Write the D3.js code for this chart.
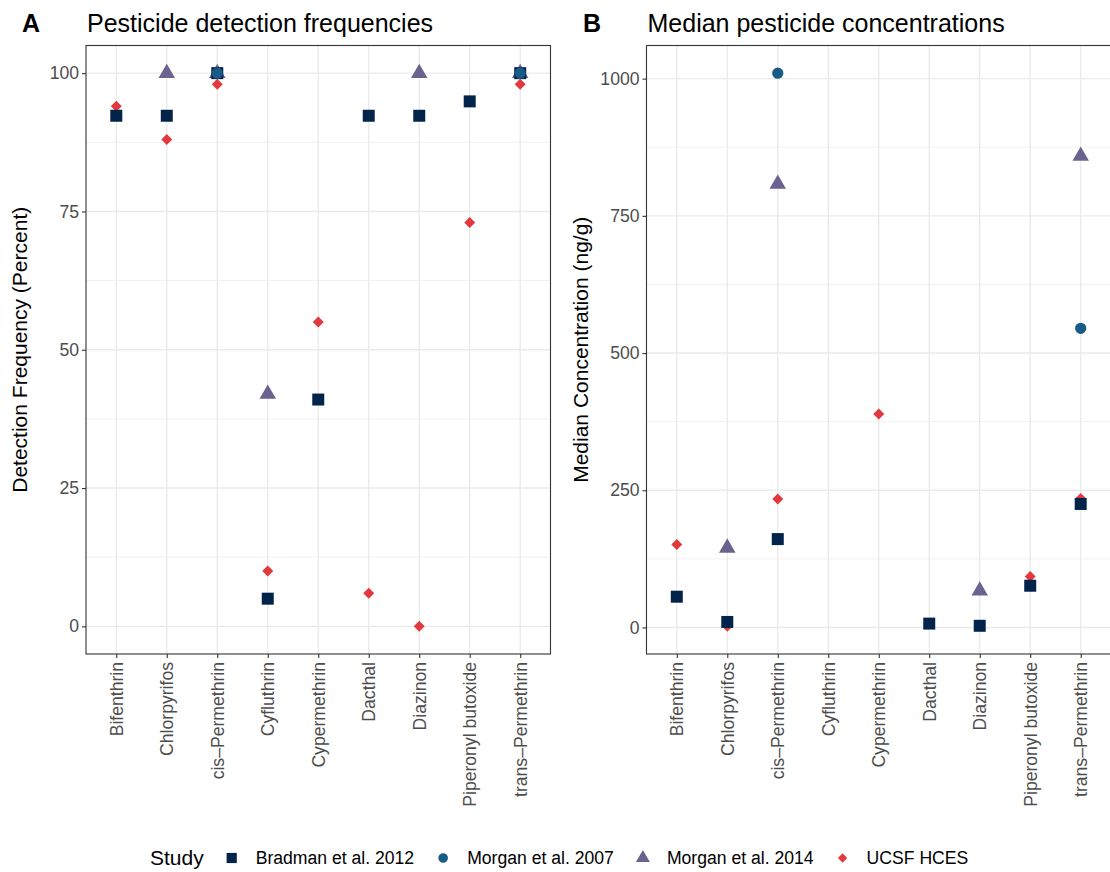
<!DOCTYPE html>
<html>
<head>
<meta charset="utf-8">
<script src="https://cdn.jsdelivr.net/npm/d3@7"></script>
<style>
  body { margin: 0; background: #fff; }
  text { font-family: "Liberation Sans", Arial, Helvetica, sans-serif; }
</style>
</head>
<body>
<div id="chart"></div>
<script>
const WIDTH = 1110;
const HEIGHT = 872;

// categories
const pesticides = ["Bifenthrin", "Chlorpyrifos", "cis\u2013Permethrin", "Cyfluthrin", "Cypermethrin",
                    "Dacthal", "Diazinon", "Piperonyl butoxide", "trans\u2013Permethrin"];
const studies = ["Bradman et al. 2012", "Morgan et al. 2007", "Morgan et al. 2014", "UCSF HCES"];

// panel A: detection frequency (percent)
const freqBradman    = [92.3, 92.3, 100, 5, 41, 92.3, 92.3, 94.9, 100];
const freqMorgan2007 = [null, null, 100, null, null, null, null, null, 100];
const freqMorgan2014 = [null, 100, 100, 42, null, null, 100, null, 100];
const freqUCSF       = [94, 88, 98, 10, 55, 6, 0, 73, 98];

// panel B: median concentration (ng/g)
const concBradman    = [56, 10, 161, null, null, 7, 3, 76, 225];
const concMorgan2007 = [null, null, 1010, null, null, null, null, null, 545];
const concMorgan2014 = [null, 145, 808, null, null, null, 67, null, 859];
const concUCSF       = [151, 2, 234, null, 389, null, null, 93, 235];

// tick labels
const freqTicks = [0, 25, 50, 75, 100];
const freqMinor = [12.5, 37.5, 62.5, 87.5];
const concTicks = [0, 250, 500, 750, 1000];
const concMinor = [125, 375, 625, 875];

const COLORS = ["#03244a", "#185b87", "#6c6290", "#e3383d"];
const DRAW_ORDER = [3, 2, 0, 1];   // UCSF, Morgan 2014, Bradman, Morgan 2007

const PANEL_TOP = 45.5;
const PANEL_BOTTOM = 654;
const FONT = "Liberation Sans, Arial, sans-serif";
const SMALL = "17.6px";

const svg = d3.select("#chart").append("svg")
    .attr("width", WIDTH)
    .attr("height", HEIGHT);

svg.append("rect").attr("width", WIDTH).attr("height", HEIGHT).attr("fill", "white");

function shapePath(i) {
    if (i === 0) return d3.symbol(d3.symbolSquare, 144)();
    if (i === 1) return d3.symbol(d3.symbolCircle, 100)();
    if (i === 2) return d3.symbol(d3.symbolTriangle, 118)();
    return d3.symbol(d3.symbolSquare, 60)();
}
function shapeRotate(i) { return i === 3 ? " rotate(45)" : ""; }

function drawPanel(opt) {
    const g = svg.append("g");

    const x = d3.scalePoint().domain(pesticides)
        .range([opt.left, opt.right]).padding(0.6);

    const allVals = opt.series.flat().filter(v => v != null);
    const ext = d3.extent(allVals);
    const pad = (ext[1] - ext[0]) * 0.05;
    const y = d3.scaleLinear().domain([ext[0] - pad, ext[1] + pad])
        .range([PANEL_BOTTOM, PANEL_TOP]);

    const w = opt.right - opt.left;

    // grid
    g.append("g").selectAll("line").data(opt.minor).join("line")
        .attr("x1", opt.left).attr("x2", opt.right)
        .attr("y1", d => y(d)).attr("y2", d => y(d))
        .attr("stroke", "#ebebeb").attr("stroke-width", 0.7);
    g.append("g").selectAll("line").data(opt.ticks).join("line")
        .attr("x1", opt.left).attr("x2", opt.right)
        .attr("y1", d => y(d)).attr("y2", d => y(d))
        .attr("stroke", "#ebebeb").attr("stroke-width", 1.4);
    g.append("g").selectAll("line").data(pesticides).join("line")
        .attr("x1", d => x(d)).attr("x2", d => x(d))
        .attr("y1", PANEL_TOP).attr("y2", PANEL_BOTTOM)
        .attr("stroke", "#ebebeb").attr("stroke-width", 1.4);

    // points
    DRAW_ORDER.forEach(si => {
        const pts = pesticides.map((p, k) => ({ p: p, v: opt.series[si][k] }))
            .filter(d => d.v != null);
        g.append("g").selectAll("path").data(pts).join("path")
            .attr("d", shapePath(si))
            .attr("transform", d => "translate(" + x(d.p) + "," + y(d.v) + ")" + shapeRotate(si))
            .attr("fill", COLORS[si]);
    });

    // border
    g.append("rect")
        .attr("x", opt.left).attr("y", PANEL_TOP)
        .attr("width", w).attr("height", PANEL_BOTTOM - PANEL_TOP)
        .attr("fill", "none").attr("stroke", "#333333").attr("stroke-width", 1.1);

    // y axis
    const ya = g.append("g")
        .attr("transform", "translate(" + opt.left + ",0)")
        .call(d3.axisLeft(y).tickValues(opt.ticks).tickFormat(d3.format("d")).tickSize(4).tickPadding(3));
    ya.select(".domain").remove();
    ya.selectAll(".tick line").attr("stroke", "#333333").attr("stroke-width", 1.1);
    ya.selectAll(".tick text").attr("fill", "#4d4d4d")
        .style("font-size", SMALL).style("font-family", FONT);

    // x axis
    const xa = g.append("g")
        .attr("transform", "translate(0," + PANEL_BOTTOM + ")")
        .call(d3.axisBottom(x).tickSize(4).tickPadding(4));
    xa.select(".domain").remove();
    xa.selectAll(".tick line").attr("stroke", "#333333").attr("stroke-width", 1.1);
    xa.selectAll(".tick text")
        .attr("fill", "#4d4d4d")
        .style("font-size", SMALL).style("font-family", FONT)
        .attr("transform", "rotate(-90)")
        .attr("text-anchor", "end")
        .attr("x", -8).attr("y", 0).attr("dy", "0.35em");

    // y title
    g.append("text")
        .attr("transform", "translate(" + opt.ytitleX + "," + ((PANEL_TOP + PANEL_BOTTOM) / 2) + ") rotate(-90)")
        .attr("text-anchor", "middle")
        .attr("dy", "0.35em")
        .style("font-size", "21px")
        .text(opt.ytitle);

    // tag + title
    g.append("text").attr("x", opt.tagX).attr("y", 32)
        .style("font-size", "25px").style("font-weight", "bold").text(opt.tag);
    g.append("text").attr("x", opt.left + 1).attr("y", 32)
        .style("font-size", "25px").text(opt.title);
}

drawPanel({
    left: 86, right: 550.5,
    series: [freqBradman, freqMorgan2007, freqMorgan2014, freqUCSF],
    ticks: freqTicks, minor: freqMinor,
    ytitle: "Detection Frequency (Percent)", ytitleX: 20,
    tag: "A", tagX: 22, title: "Pesticide detection frequencies"
});

drawPanel({
    left: 646.5, right: 1111,
    series: [concBradman, concMorgan2007, concMorgan2014, concUCSF],
    ticks: concTicks, minor: concMinor,
    ytitle: "Median Concentration (ng/g)", ytitleX: 581,
    tag: "B", tagX: 583, title: "Median pesticide concentrations"
});

// legend
const legend = svg.append("g").attr("transform", "translate(0,858)");
const lt = legend.append("text").attr("x", 150).attr("dy", "0.35em")
    .style("font-size", "21px").text("Study");
let cx = 150 + lt.node().getComputedTextLength() + 28;
studies.forEach((s, i) => {
    legend.append("path")
        .attr("d", shapePath(i))
        .attr("transform", "translate(" + cx + ",0) scale(0.85)" + shapeRotate(i))
        .attr("fill", COLORS[i]);
    const t = legend.append("text").attr("x", cx + 24).attr("dy", "0.35em")
        .style("font-size", SMALL).text(s);
    cx = cx + 24 + t.node().getComputedTextLength() + 29;
});
</script>
</body>
</html>
